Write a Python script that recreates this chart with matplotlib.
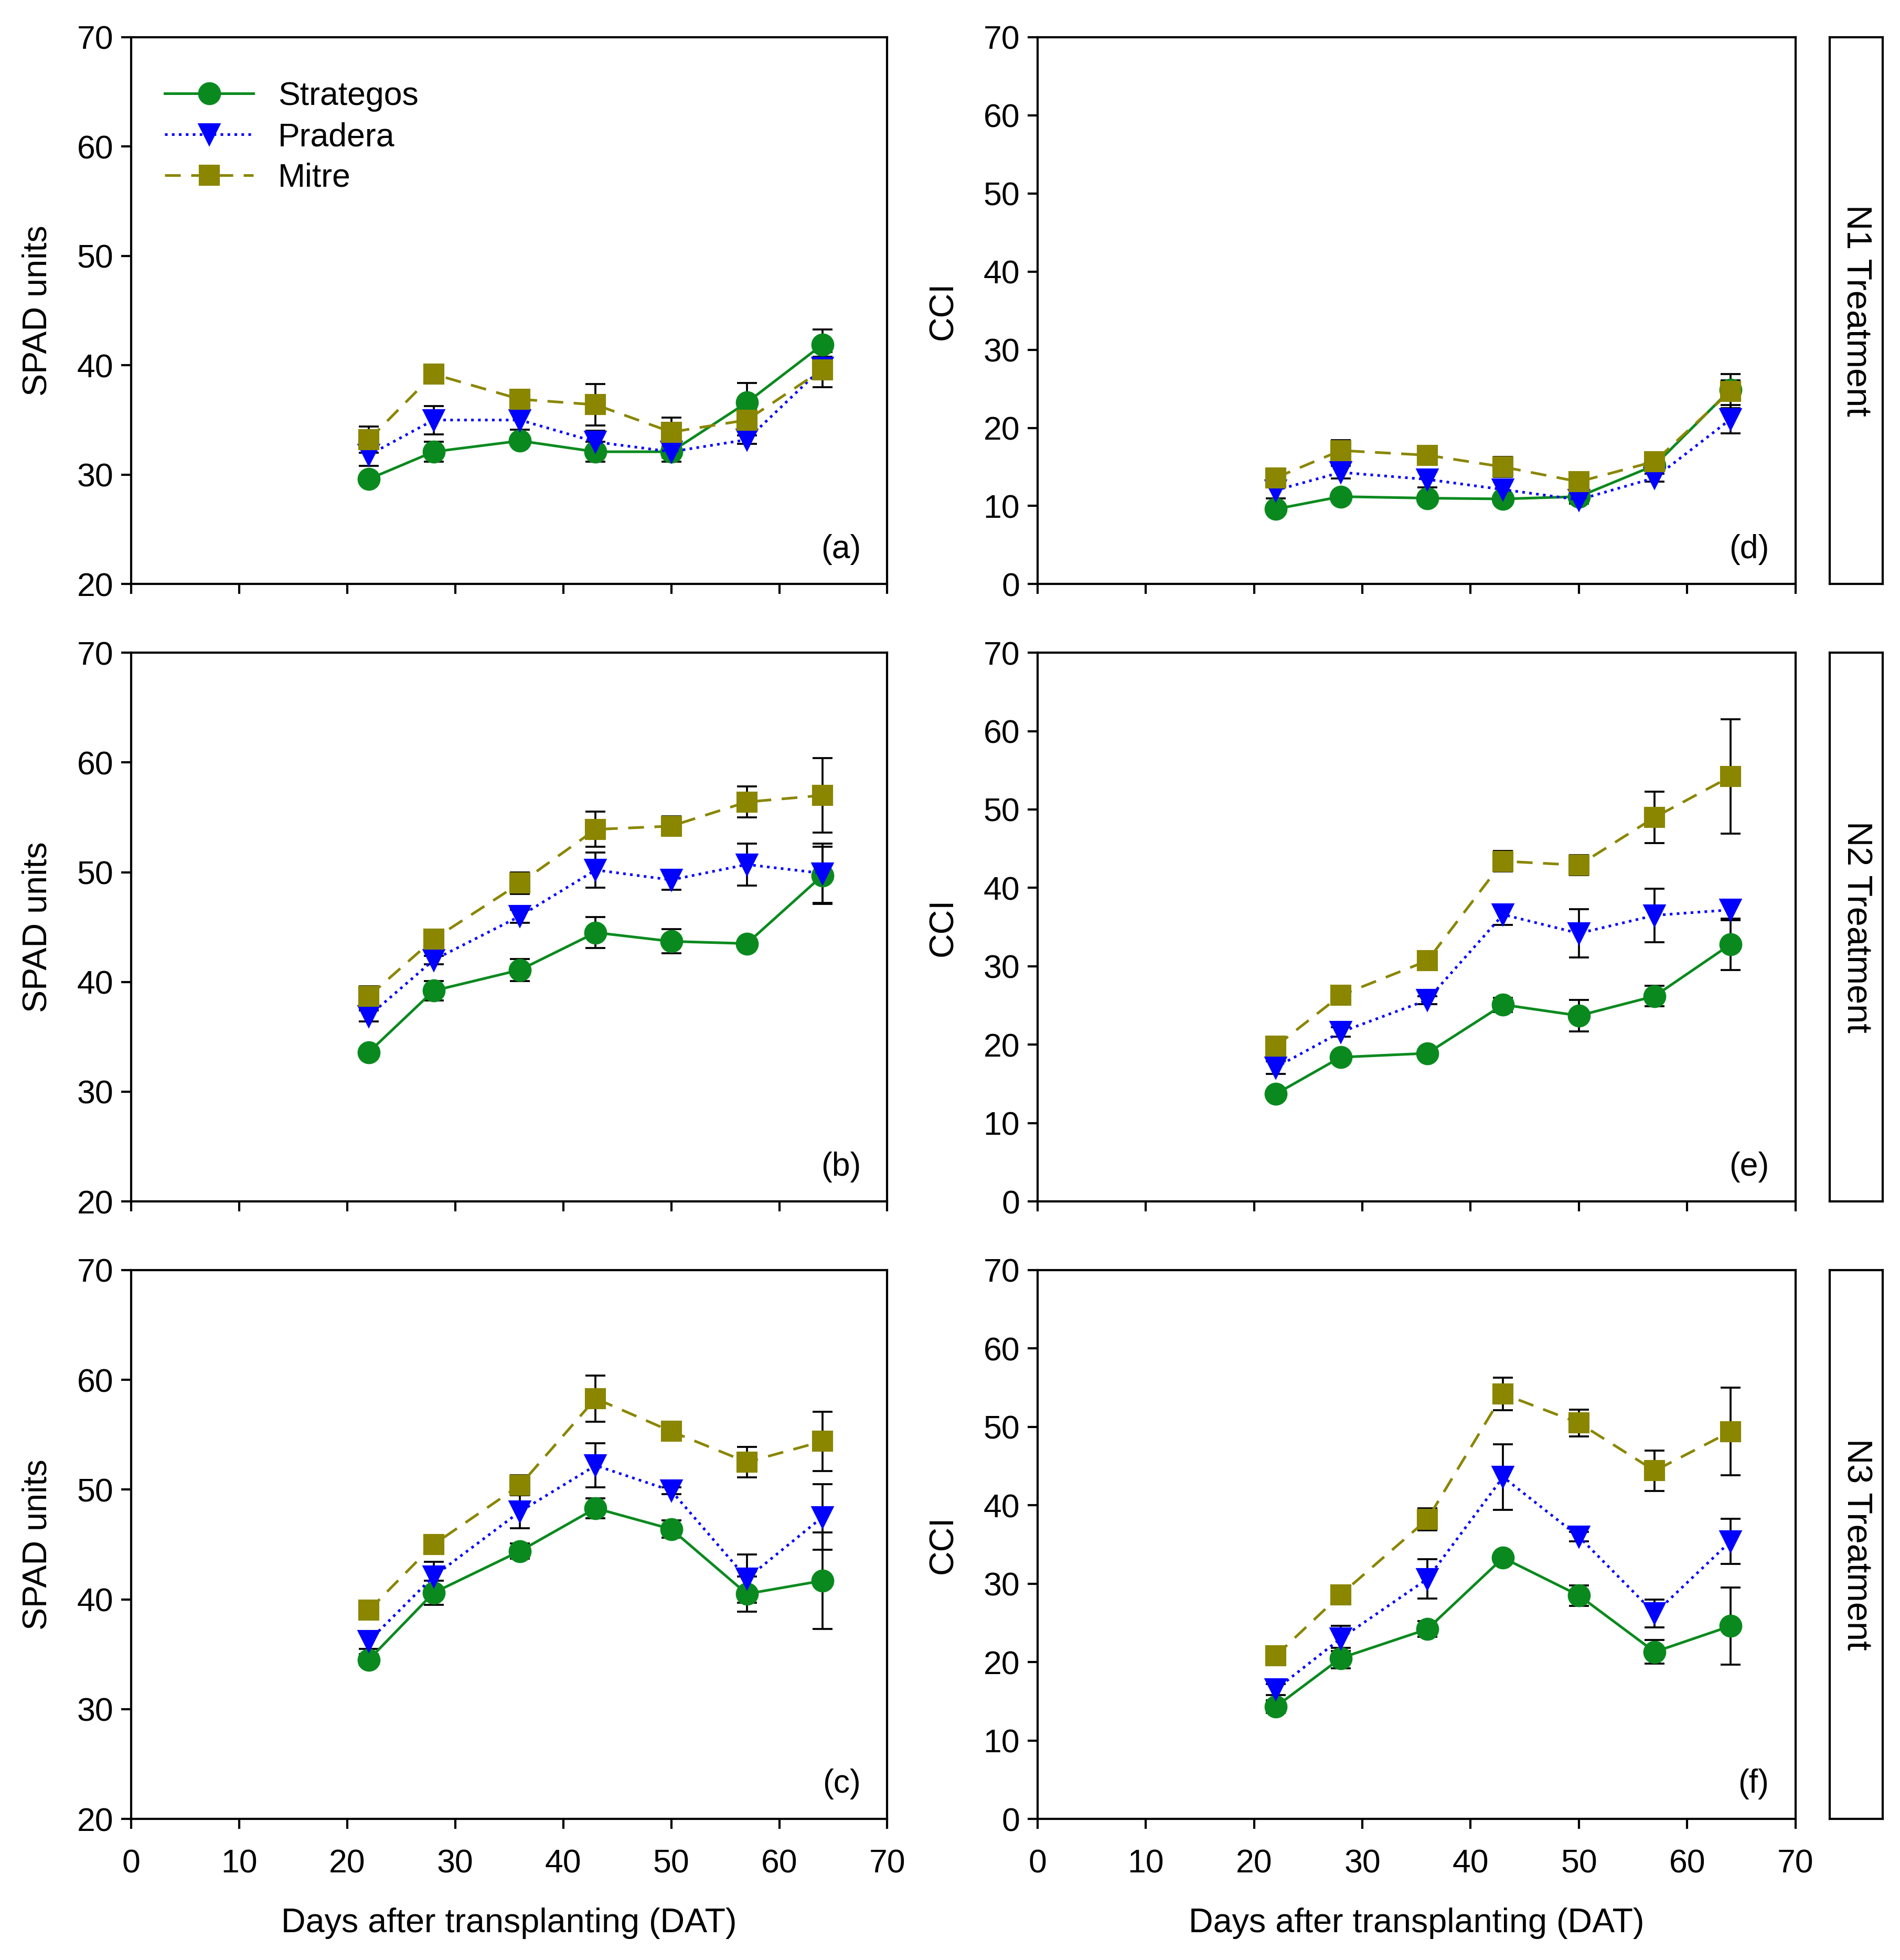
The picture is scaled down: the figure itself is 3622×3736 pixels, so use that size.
import matplotlib
matplotlib.use('Agg')
import matplotlib.pyplot as plt

# days after transplanting
dat = [22, 28, 36, 43, 50, 57, 64]
cultivars = ['Strategos', 'Pradera', 'Mitre']

# SPAD, N1..N3 : means and standard errors
spad_n1 = {'Strategos': [29.6, 32.1, 33.1, 32.1, 32.1, 36.6, 41.9],
           'Pradera':   [31.8, 35.0, 35.0, 33.0, 32.1, 33.2, 39.8],
           'Mitre':     [33.2, 39.2, 36.9, 36.4, 33.9, 35.0, 39.6]}
spad_n1_se = {'Strategos': [0.3, 0.9, 0.3, 0.9, 0.9, 1.8, 1.4],
              'Pradera':   [1.0, 1.3, 0.9, 1.0, 0.5, 0.4, 1.0],
              'Mitre':     [1.2, 0.8, 0.7, 1.9, 1.3, 1.0, 1.6]}

spad_n2 = {'Strategos': [33.6, 39.2, 41.1, 44.5, 43.7, 43.5, 49.7],
           'Pradera':   [36.9, 42.0, 46.0, 50.2, 49.3, 50.7, 49.9],
           'Mitre':     [38.7, 43.9, 49.0, 53.9, 54.2, 56.4, 57.0]}
spad_n2_se = {'Strategos': [0.3, 0.9, 1.0, 1.4, 1.1, 0.3, 2.6],
              'Pradera':   [0.5, 0.4, 0.6, 1.6, 0.9, 1.9, 2.7],
              'Mitre':     [0.9, 0.8, 1.0, 1.6, 0.9, 1.4, 3.4]}

spad_n3 = {'Strategos': [34.5, 40.6, 44.4, 48.3, 46.4, 40.5, 41.7],
           'Pradera':   [36.2, 42.1, 48.0, 52.2, 49.9, 41.9, 47.5],
           'Mitre':     [39.0, 45.0, 50.4, 58.3, 55.3, 52.5, 54.4]}
spad_n3_se = {'Strategos': [0.5, 1.1, 0.7, 0.9, 0.8, 1.6, 4.4],
              'Pradera':   [0.7, 1.3, 1.5, 2.0, 0.3, 2.2, 3.0],
              'Mitre':     [0.3, 0.6, 0.9, 2.1, 0.4, 1.4, 2.7]}

# CCI, N1..N3
cci_n1 = {'Strategos': [9.6, 11.2, 11.0, 10.9, 11.2, 15.2, 24.9],
          'Pradera':   [12.0, 14.3, 13.4, 12.1, 10.8, 13.6, 21.1],
          'Mitre':     [13.6, 17.1, 16.5, 15.0, 13.1, 15.7, 24.7]}
cci_n1_se = {'Strategos': [0.4, 0.5, 0.4, 0.4, 0.4, 0.5, 1.2],
             'Pradera':   [1.0, 0.8, 1.0, 1.0, 0.5, 0.5, 1.8],
             'Mitre':     [0.5, 1.3, 1.2, 1.3, 0.4, 0.5, 2.2]}

cci_n2 = {'Strategos': [13.7, 18.4, 18.9, 25.1, 23.7, 26.2, 32.8],
          'Pradera':   [17.1, 21.6, 25.7, 36.6, 34.2, 36.5, 37.2],
          'Mitre':     [19.8, 26.3, 30.7, 43.4, 42.9, 49.0, 54.2]}
cci_n2_se = {'Strategos': [0.4, 0.5, 0.4, 0.9, 2.0, 1.3, 3.3],
             'Pradera':   [0.8, 0.6, 0.5, 1.3, 3.1, 3.4, 1.3],
             'Mitre':     [0.4, 0.5, 0.5, 1.3, 1.3, 3.3, 7.3]}

cci_n3 = {'Strategos': [14.3, 20.5, 24.2, 33.3, 28.5, 21.3, 24.6],
          'Pradera':   [16.5, 23.0, 30.6, 43.6, 36.0, 26.2, 35.4],
          'Mitre':     [20.8, 28.6, 38.2, 54.2, 50.5, 44.4, 49.4]}
cci_n3_se = {'Strategos': [0.8, 1.3, 1.0, 0.5, 1.3, 1.5, 4.9],
             'Pradera':   [0.7, 1.6, 2.5, 4.2, 0.6, 1.8, 2.9],
             'Mitre':     [0.4, 0.9, 1.4, 2.1, 1.7, 2.6, 5.6]}

treatments = ['N1 Treatment', 'N2 Treatment', 'N3 Treatment']
letters_spad = ['(a)', '(b)', '(c)']
letters_cci = ['(d)', '(e)', '(f)']

styles = {'Strategos': dict(color='#0a8a1e', marker='o', ls='-', ms=9.5),
          'Pradera':   dict(color='#0000ff', marker='v', ls=':', ms=9),
          'Mitre':     dict(color='#8a8600', marker='s', ls=(0, (6, 4)), ms=8.5)}

plt.rcParams['font.family'] = ['Liberation Sans', 'DejaVu Sans']
plt.rcParams['axes.linewidth'] = 1.0

fig = plt.figure(figsize=(3622 / 300, 3736 / 300), dpi=300)

rows = [(0.702, 0.279), (0.387, 0.280), (0.072, 0.280)]
spad_sets = [(spad_n1, spad_n1_se), (spad_n2, spad_n2_se), (spad_n3, spad_n3_se)]
cci_sets = [(cci_n1, cci_n1_se), (cci_n2, cci_n2_se), (cci_n3, cci_n3_se)]


def panel(ax, means, ses, ylim, ylabel, letter, bottom):
    lines = []
    for c in cultivars:
        st = styles[c]
        cont = ax.errorbar(dat, means[c], yerr=ses[c], color=st['color'], ls=st['ls'],
                           lw=1.2, marker=st['marker'], ms=st['ms'], mec=st['color'],
                           ecolor='black', elinewidth=0.9, capsize=4.5, capthick=0.9,
                           label=c)
        lines.append(cont[0])
    ax.set_xlim(0, 70)
    ax.set_ylim(*ylim)
    ax.set_xticks(range(0, 71, 10))
    ax.set_yticks(range(ylim[0], ylim[1] + 1, 10))
    ax.tick_params(direction='out', length=4.5, width=1.0, top=False, right=False,
                   labelsize=15)
    ax.tick_params(axis='x', pad=9)
    if not bottom:
        ax.tick_params(labelbottom=False)
    else:
        ax.set_xlabel('Days after transplanting (DAT)', fontsize=15.5, labelpad=13)
    ax.set_ylabel(ylabel, fontsize=15.5, labelpad=11)
    ax.text(0.965, 0.035, letter, transform=ax.transAxes, ha='right', va='bottom',
            fontsize=15)
    return lines


for i in range(3):
    b, h = rows[i]
    ax1 = fig.add_axes([0.069, b, 0.398, h])
    lines = panel(ax1, spad_sets[i][0], spad_sets[i][1], (20, 70), 'SPAD units',
                  letters_spad[i], i == 2)
    if i == 0:
        ax1.legend(lines, cultivars, loc='upper left', bbox_to_anchor=(0.01, 0.968),
                   frameon=False, fontsize=15, numpoints=1, handlelength=2.7,
                   handletextpad=0.75, borderaxespad=0.3, labelspacing=0.3,
                   borderpad=0.5)
    ax2 = fig.add_axes([0.546, b, 0.399, h])
    panel(ax2, cci_sets[i][0], cci_sets[i][1], (0, 70), 'CCI',
          letters_cci[i], i == 2)
    axs = fig.add_axes([0.963, b, 0.028, h])
    axs.set_xticks([])
    axs.set_yticks([])
    axs.text(0.5, 0.5, treatments[i], rotation=270, ha='center', va='center',
             fontsize=16, transform=axs.transAxes)

fig.savefig('out.png', dpi=300)
